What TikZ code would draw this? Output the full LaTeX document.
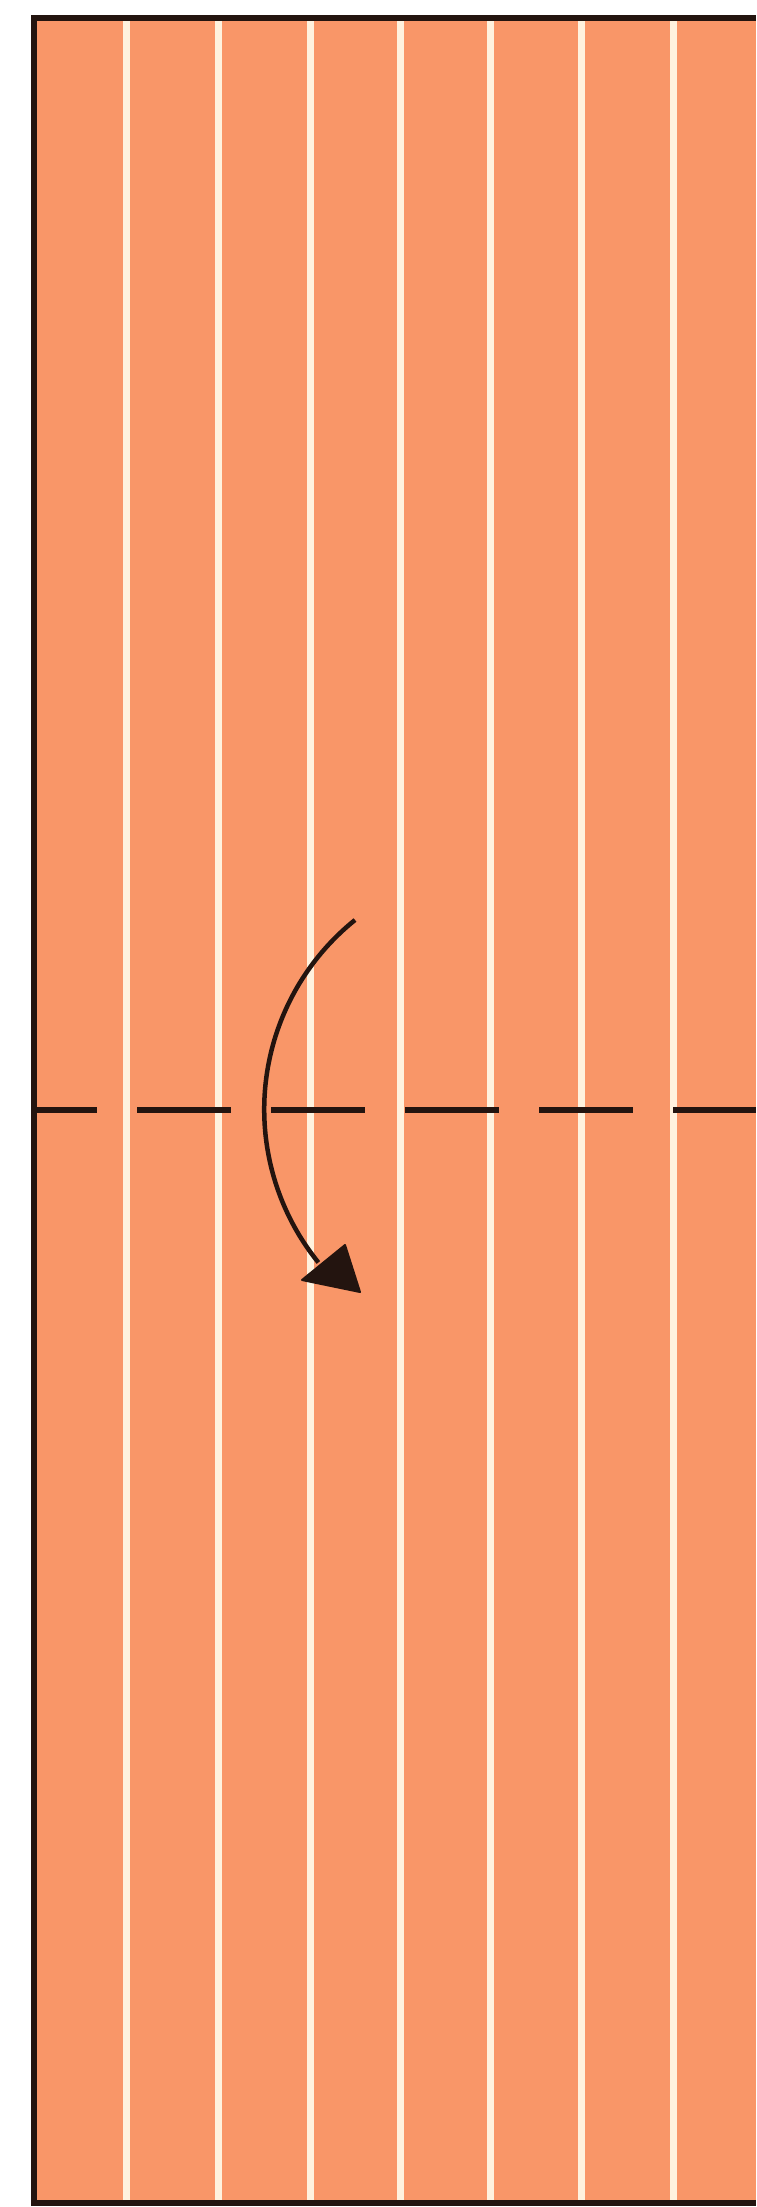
\documentclass[tikz,border=0pt]{standalone}
\definecolor{paper}{RGB}{249,150,104}
\definecolor{crease}{RGB}{255,242,222}
\definecolor{ink}{RGB}{35,20,15}
\begin{document}
\begin{tikzpicture}[x=0.01cm,y=-0.01cm,
 edge/.style={draw=ink,line width=0.55mm,line join=miter},
 stripe/.style={draw=crease,line width=0.7mm},
 fold/.style={draw=ink,line width=0.65mm,dash pattern=on 9.4mm off 4mm,dash phase=3.1mm},
 turn/.style={draw=ink,line width=0.45mm},
 turnhead/.style={fill=ink,draw=ink,line width=0.2mm,line join=round}]
\useasboundingbox (0,0) rectangle (756,2207);
\fill[white] (0,0) rectangle (756,2207);
\fill[paper] (34,18) rectangle (756,2203);
\foreach \x in {126,218,310,400,490,581,673} \draw[stripe] (\x,21) -- (\x,2201);
\draw[edge] (756,18) -- (34,18) -- (34,2203) -- (756,2203);
\coordinate (f1) at (34,1110);
\coordinate (f2) at (756,1110);
\draw[fold] (f1) -- (f2);
\coordinate (a1) at (355,920);
\coordinate (a2) at (360,1292);
\coordinate (h1) at (345,1245);
\coordinate (h2) at (302,1280);
\draw[turn] (a1) arc[start angle=128.8, end angle=219, radius=2.43cm];
\draw[turnhead] (a2) -- (h1) -- (h2) -- cycle;
\end{tikzpicture}
\end{document}
